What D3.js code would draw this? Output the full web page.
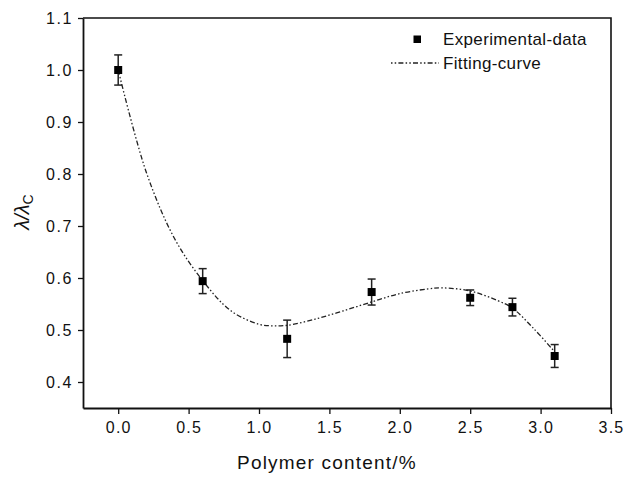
<!DOCTYPE html>
<html>
<head>
<meta charset="utf-8">
<script src="https://cdn.jsdelivr.net/npm/d3@7"></script>
<style>
  body { margin: 0; background: #fff; }
  text { font-family: "Liberation Sans", Arial, sans-serif; fill: #111; }
</style>
</head>
<body>
<script>
// Datos experimentales (contenido de polímero %, λ/λc, barra de error)
var contenido = [0.0, 0.6, 1.2, 1.8, 2.5, 2.8, 3.1];
var lambdaRel = [1.000, 0.594, 0.483, 0.573, 0.562, 0.544, 0.450];
var errorBar  = [0.029, 0.024, 0.036, 0.025, 0.015, 0.017, 0.022];

// Curva de ajuste
var ajusteX = [0.0, 0.2, 0.4, 0.6, 0.8, 1.0, 1.1, 1.2, 1.4, 1.6, 1.8, 2.0, 2.2, 2.3, 2.5, 2.7, 2.8, 2.95, 3.1];
var ajusteY = [1.000, 0.803, 0.676, 0.595, 0.537, 0.511, 0.508, 0.509, 0.521, 0.537, 0.554, 0.570, 0.579, 0.581, 0.575, 0.556, 0.542, 0.503, 0.458];

// Ticks
var xTicks = [0.0, 0.5, 1.0, 1.5, 2.0, 2.5, 3.0, 3.5];
var xMinor = [-0.25, 0.25, 0.75, 1.25, 1.75, 2.25, 2.75, 3.25];
var yTicks = [0.4, 0.5, 0.6, 0.7, 0.8, 0.9, 1.0, 1.1];
var yMinor = [0.35, 0.45, 0.55, 0.65, 0.75, 0.85, 0.95, 1.05];

var ancho = 624, alto = 477;
var izq = 83, der = 611, arriba = 18, abajo = 408;

var svg = d3.select("body").append("svg")
            .attr("width", ancho)
            .attr("height", alto);

var x = d3.scaleLinear().domain([-0.25, 3.5]).range([izq, der]);
var y = d3.scaleLinear().domain([0.35, 1.1]).range([abajo, arriba]);

// Marco superior y derecho
svg.append("path")
   .attr("d", "M" + izq + "," + arriba + "H" + der + "V" + abajo)
   .attr("fill", "none")
   .attr("stroke", "#111")
   .attr("stroke-width", 1.6);

// Eje X
var ejeX = svg.append("g").attr("transform", "translate(0," + abajo + ")");
ejeX.call(d3.axisBottom(x).tickValues(xMinor).tickSize(4).tickSizeOuter(0).tickFormat(""));
ejeX.call(d3.axisBottom(x).tickValues(xTicks).tickSize(6).tickSizeOuter(0).tickFormat(d3.format(".1f")));
ejeX.selectAll("path.domain").attr("stroke", "#111").attr("stroke-width", 1.8);
ejeX.selectAll(".tick line").attr("stroke", "#111").attr("stroke-width", 1.3);
ejeX.selectAll(".tick text")
    .attr("y", 14)
    .attr("dy", "0.71em")
    .attr("font-size", "16px")
    .attr("letter-spacing", "1.2px")
    .attr("font-family", "Liberation Sans, Arial, sans-serif")
    .attr("fill", "#111");

// Eje Y
var ejeY = svg.append("g").attr("transform", "translate(" + izq + ",0)");
ejeY.call(d3.axisLeft(y).tickValues(yMinor).tickSize(3).tickSizeOuter(0).tickFormat(""));
ejeY.call(d3.axisLeft(y).tickValues(yTicks).tickSize(5).tickSizeOuter(0).tickFormat(d3.format(".1f")));
ejeY.selectAll("path.domain").attr("stroke", "#111").attr("stroke-width", 1.8);
ejeY.selectAll(".tick line").attr("stroke", "#111").attr("stroke-width", 1.3);
ejeY.selectAll(".tick text")
    .attr("x", -10)
    .attr("dy", "0.36em")
    .attr("font-size", "16px")
    .attr("letter-spacing", "1.6px")
    .attr("font-family", "Liberation Sans, Arial, sans-serif")
    .attr("fill", "#111");

// Títulos de ejes
svg.append("text")
   .attr("x", 327)
   .attr("y", 469)
   .attr("text-anchor", "middle")
   .attr("font-size", "19px")
   .attr("letter-spacing", "1.2px")
   .text("Polymer content/%");

var tituloY = svg.append("text")
   .attr("transform", "translate(29,212) rotate(-90)")
   .attr("text-anchor", "middle")
   .attr("font-size", "20px");
tituloY.append("tspan").attr("font-style", "italic").text("λ/λ");
tituloY.append("tspan").attr("font-size", "14px").attr("dy", "4").text("C");

// Curva de ajuste
var datosAjuste = ajusteX.map(function(d, i) { return [d, ajusteY[i]]; });
var linea = d3.line()
              .x(function(d) { return x(d[0]); })
              .y(function(d) { return y(d[1]); })
              .curve(d3.curveCatmullRom.alpha(0.5));
var patron = "5,2.2,1.5,2.2,1.5,2.2";
svg.append("path")
   .datum(datosAjuste)
   .attr("d", linea)
   .attr("fill", "none")
   .attr("stroke", "#222")
   .attr("stroke-width", 1.3)
   .attr("stroke-dasharray", patron);

// Barras de error
var puntos = contenido.map(function(d, i) { return { x: d, y: lambdaRel[i], e: errorBar[i] }; });
var barras = svg.append("g").attr("stroke", "#222").attr("stroke-width", 1.5);
puntos.forEach(function(p) {
    var cx = x(p.x), y1 = y(p.y + p.e), y2 = y(p.y - p.e);
    barras.append("line").attr("x1", cx).attr("x2", cx).attr("y1", y1).attr("y2", y2);
    barras.append("line").attr("x1", cx - 4).attr("x2", cx + 4).attr("y1", y1).attr("y2", y1);
    barras.append("line").attr("x1", cx - 4).attr("x2", cx + 4).attr("y1", y2).attr("y2", y2);
});

// Marcadores cuadrados
svg.selectAll("rect.punto")
   .data(puntos)
   .enter().append("rect")
   .attr("class", "punto")
   .attr("x", function(d) { return x(d.x) - 4; })
   .attr("y", function(d) { return y(d.y) - 4; })
   .attr("width", 8)
   .attr("height", 8)
   .attr("fill", "#000");

// Leyenda
var leyenda = svg.append("g");
leyenda.append("rect")
       .attr("x", 413.5).attr("y", 35.5)
       .attr("width", 7.5).attr("height", 7.5)
       .attr("fill", "#000");
leyenda.append("text")
       .attr("x", 443).attr("y", 45)
       .attr("font-size", "17px")
       .attr("letter-spacing", "0.35px")
       .text("Experimental-data");
leyenda.append("line")
       .attr("x1", 391).attr("x2", 439)
       .attr("y1", 63).attr("y2", 63)
       .attr("stroke", "#222")
       .attr("stroke-width", 1.3)
       .attr("stroke-dasharray", "1.5,2.2,1.5,2.2,5,2.2");
leyenda.append("text")
       .attr("x", 443).attr("y", 68.5)
       .attr("font-size", "17px")
       .attr("letter-spacing", "0.35px")
       .text("Fitting-curve");
</script>
</body>
</html>
